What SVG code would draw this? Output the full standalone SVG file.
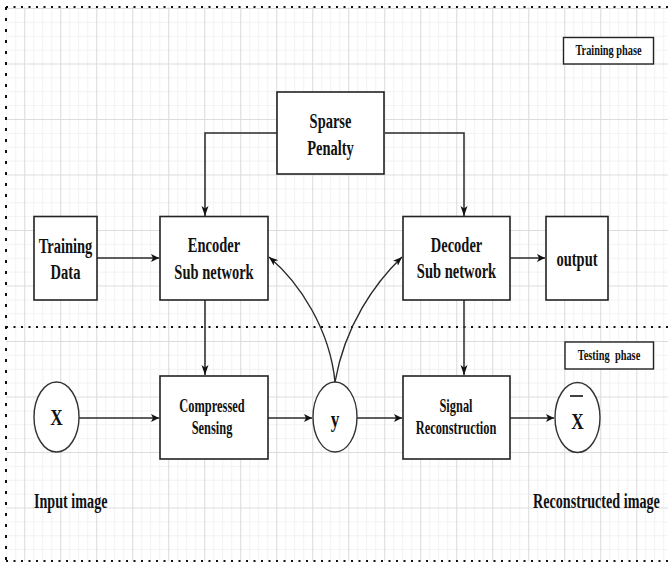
<svg xmlns="http://www.w3.org/2000/svg" width="668" height="562" viewBox="0 0 668 562">
<style>
.t{font-family:"Liberation Serif","Times New Roman",serif;font-weight:bold;fill:#111;text-anchor:middle}
.f21{font-size:21px}
.f18{font-size:18px}
.f15{font-size:15px}
.f24{font-size:24px}
.box{fill:#fff;stroke:#222;stroke-width:1.6}
.lbl{fill:#fff;stroke:#222;stroke-width:1.4}
.ell{fill:#fff;stroke:#333;stroke-width:1.4}
.c{fill:none;stroke:#2a2a2a;stroke-width:1.5}
.ch{fill:none;stroke:#2a2a2a;stroke-width:1.5;marker-end:url(#ah)}
.cv{fill:none;stroke:#2a2a2a;stroke-width:1.5;marker-end:url(#av)}
.cc{fill:none;stroke:#2a2a2a;stroke-width:1.4;marker-end:url(#ac)}
.dot{stroke:#111;stroke-width:2;fill:none}
</style>
<defs>
<pattern id="grid" x="24.2" y="8" width="36" height="55.5" patternUnits="userSpaceOnUse">
<path d="M9.5 0V55.5M18.5 0V55.5M27.5 0V55.5M0 14.4H36M0 28.3H36M0 42.1H36" stroke="#f2f2f2" stroke-width="1" fill="none"/>
<path d="M0.5 0V55.5M0 0.5H36" stroke="#dcdcdc" stroke-width="1.2" fill="none"/>
</pattern>
<marker id="ah" markerUnits="userSpaceOnUse" markerWidth="9" markerHeight="9" refX="8" refY="4.5" orient="auto">
<path d="M0,0.5 L8,4.5 L0,8.5 L2,4.5 z" fill="#111"/>
</marker>
<marker id="av" markerUnits="userSpaceOnUse" markerWidth="11" markerHeight="8" refX="10" refY="4" orient="auto">
<path d="M0,0.5 L10,4 L0,7.5 L2.5,4 z" fill="#111"/>
</marker>
<marker id="ac" markerUnits="userSpaceOnUse" markerWidth="10" markerHeight="8" refX="9" refY="4" orient="auto">
<path d="M0,0.5 L9,4 L0,7.5 L2.2,4 z" fill="#111"/>
</marker>
</defs>
<rect width="668" height="562" fill="#fff"/>
<rect x="6" y="7" width="662" height="554" fill="url(#grid)"/>

<g id="frame">
<line class="dot" x1="6" y1="7" x2="668" y2="7" stroke-dasharray="2 5.5"/>
<line class="dot" x1="6" y1="7" x2="6" y2="561" stroke-dasharray="3 8"/>
<line class="dot" x1="6" y1="327" x2="668" y2="327" stroke-dasharray="2 5.5"/>
<line class="dot" x1="6" y1="561" x2="668" y2="561" stroke-dasharray="2 5.5"/>
</g>

<g id="connectors">
<path class="cv" d="M277,133 H205 V216"/>
<path class="cv" d="M385,133 H464 V216"/>
<path class="ch" d="M97,258 H159"/>
<path class="ch" d="M510,258 H545"/>
<path class="cv" d="M205,300 V375"/>
<path class="cv" d="M464,300 V375"/>
<path class="ch" d="M79,418 H159"/>
<path class="ch" d="M268,418 H312"/>
<path class="ch" d="M357,418 H402"/>
<path class="ch" d="M510,418 H554"/>
<path class="cc" d="M335,382 C330,330 300,283 269,257"/>
<path class="cc" d="M335,382 C345,325 375,283 402,257"/>
</g>

<g id="training-phase">
<rect class="lbl" x="563.5" y="37.5" width="90" height="26.5"/>
<text class="t f15" transform="translate(608.5,55) scale(0.69,1)">Training phase</text>
</g>

<g id="sparse-penalty">
<rect class="box" x="277" y="92" width="107" height="82"/>
<text class="t f21" transform="translate(330.5,128) scale(0.69,1)">Sparse</text>
<text class="t f21" transform="translate(330.5,155) scale(0.69,1)">Penalty</text>
</g>

<g id="training-data">
<rect class="box" x="34" y="216.5" width="63" height="83.5"/>
<text class="t f21" transform="translate(65.5,253) scale(0.69,1)">Training</text>
<text class="t f21" transform="translate(65.5,279) scale(0.69,1)">Data</text>
</g>

<g id="encoder">
<rect class="box" x="160" y="216.5" width="108" height="83.5"/>
<text class="t f21" transform="translate(214,252) scale(0.69,1)">Encoder</text>
<text class="t f21" transform="translate(214,279) scale(0.69,1)">Sub network</text>
</g>

<g id="decoder">
<rect class="box" x="403" y="216.5" width="107" height="83.5"/>
<text class="t f21" transform="translate(456.5,252) scale(0.69,1)">Decoder</text>
<text class="t f21" transform="translate(456.5,278) scale(0.69,1)">Sub network</text>
</g>

<g id="output">
<rect class="box" x="546" y="216.5" width="62" height="83.5"/>
<text class="t f21" transform="translate(577,266) scale(0.69,1)">output</text>
</g>

<g id="testing-phase">
<rect class="lbl" x="565" y="342" width="88.5" height="27"/>
<text class="t f15" transform="translate(609,359.5) scale(0.69,1)" word-spacing="4">Testing phase</text>
</g>

<g id="input-x">
<ellipse class="ell" cx="56.5" cy="417" rx="22.5" ry="35"/>
<text class="t f24" transform="translate(56.5,425) scale(0.72,1)">X</text>
</g>

<g id="compressed-sensing">
<rect class="box" x="160" y="376" width="108" height="83"/>
<text class="t f18" transform="translate(212,411.5) scale(0.69,1)">Compressed</text>
<text class="t f18" transform="translate(212,434) scale(0.69,1)">Sensing</text>
</g>

<g id="y">
<ellipse class="ell" cx="335" cy="417" rx="22" ry="35"/>
<text class="t f24" transform="translate(335,427) scale(0.72,1)">y</text>
</g>

<g id="signal-reconstruction">
<rect class="box" x="403" y="376" width="107" height="83"/>
<text class="t f18" transform="translate(456,411.5) scale(0.69,1)">Signal</text>
<text class="t f18" transform="translate(456,434) scale(0.69,1)">Reconstruction</text>
</g>

<g id="output-xbar">
<ellipse class="ell" cx="577.5" cy="417.5" rx="22.5" ry="35"/>
<line x1="570" y1="396" x2="583" y2="396" stroke="#111" stroke-width="1.6"/>
<text class="t f24" transform="translate(577.5,428.5) scale(0.72,1)">X</text>
</g>

<g id="labels">
<text class="t" style="font-size:20.5px;text-anchor:start" transform="translate(34,508) scale(0.69,1)">Input image</text>
<text class="t" style="font-size:20.5px;text-anchor:start" transform="translate(533,508) scale(0.69,1)">Reconstructed image</text>
</g>
</svg>
